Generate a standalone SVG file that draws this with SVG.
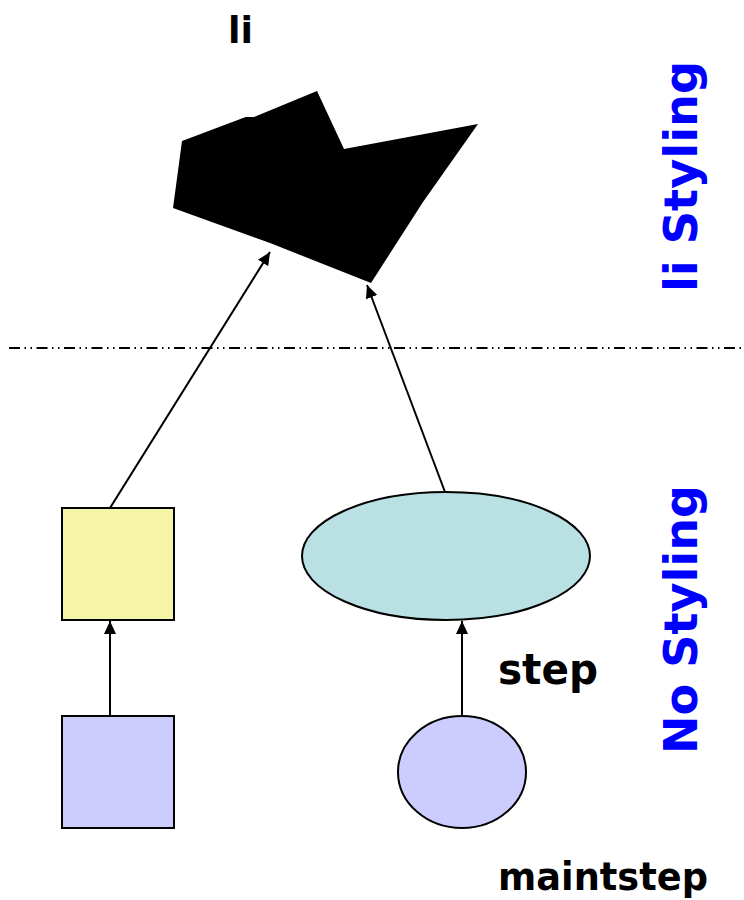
<svg xmlns="http://www.w3.org/2000/svg" width="744" height="900" viewBox="0 0 744 900">
<style>
.lbl{font-family:"DejaVu Sans","Verdana",sans-serif;font-weight:bold;fill:#000}
.side{font-family:"DejaVu Sans","Verdana",sans-serif;font-weight:bold;font-size:47px;fill:#0000FF}
.conn{stroke:#000;stroke-width:2;fill:none;marker-end:url(#ah)}
.shape{stroke:#000;stroke-width:2}
</style>
<defs>
<marker id="ah" viewBox="0 0 13 12" refX="13" refY="6" markerWidth="13" markerHeight="12" markerUnits="userSpaceOnUse" orient="auto">
<path d="M0,0 L13,6 L0,12 Z" fill="#000"/>
</marker>
</defs>
<rect width="744" height="900" fill="#fff"/>
<g id="li-node">
<polygon points="182,141 243,118 246,117 254,117 317,91 344,149 478,124 423,202 371,283 270,243 173,208" fill="#000"/>
<text class="lbl" x="228" y="43" font-size="38" textLength="25" lengthAdjust="spacingAndGlyphs">li</text>
</g>
<g id="separator">
<line x1="9" y1="348" x2="744" y2="348" stroke="#000" stroke-width="2" stroke-dasharray="11 4.5 1.5 4.5 1.5 4.5"/>
</g>
<g id="yellow-square"><rect class="shape" x="62" y="508" width="112" height="112" fill="#F6F4A6"/></g>
<g id="blue-square"><rect class="shape" x="62" y="716" width="112" height="112" fill="#CCCCFF"/></g>
<g id="step-ellipse">
<ellipse class="shape" cx="446" cy="556" rx="144" ry="64" fill="#B9E0E2"/>
<text class="lbl" x="498" y="684" font-size="42" textLength="100" lengthAdjust="spacingAndGlyphs">step</text>
</g>
<g id="maintstep-circle">
<ellipse class="shape" cx="462" cy="772" rx="64" ry="56" fill="#CCCCFF"/>
<text class="lbl" x="498" y="890" font-size="39" textLength="210" lengthAdjust="spacingAndGlyphs">maintstep</text>
</g>
<g id="connectors">
<line class="conn" x1="110" y1="508" x2="270" y2="252"/>
<line class="conn" x1="445" y1="492" x2="367" y2="285"/>
<line class="conn" x1="110" y1="716" x2="110" y2="621"/>
<line class="conn" x1="462" y1="716" x2="462" y2="621"/>
</g>
<g id="side-labels">
<text class="side" transform="translate(697,292) rotate(-90)" textLength="231" lengthAdjust="spacingAndGlyphs">li Styling</text>
<text class="side" transform="translate(697,754) rotate(-90)" textLength="269" lengthAdjust="spacingAndGlyphs">No Styling</text>
</g>
</svg>
